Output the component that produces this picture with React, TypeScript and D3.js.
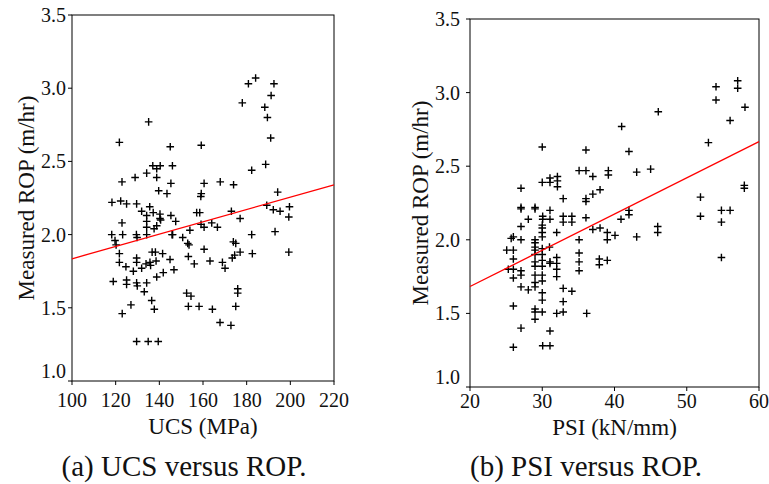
import React, { useEffect, useRef } from 'react';
import * as d3 from 'd3';

// UCS (MPa) vs measured ROP (m/hr)
const ucsValues = [
  184.1, 180.8, 192.5, 178, 191.2, 188.3, 189.5, 191, 135.1, 121.7, 145, 159.2, 188.7, 182.3,
  137, 140.4, 146, 134.2, 138.8, 128.9, 138.8, 122.9, 145.3, 160.5, 167.9, 174, 139.7, 143.5,
  159.2, 159, 194.2, 118.3, 122.3, 125, 129.6, 189.2, 192.2, 195.3, 199.6, 173, 157.1, 158.5,
  131.9, 135.6, 137.2, 140.3,
  118.2, 119.7, 120.2, 121.7, 121.7, 118.9, 122.9, 123.2, 124.7, 125, 125, 123, 127, 129.5,
  129.8, 129.6, 129.6, 128.1, 129.6, 129.9, 129.6, 134.2, 134.2, 134.2, 133.9, 131.9, 134.2,
  133.1, 136.5, 137.7, 134.9, 139.5, 136.7, 138.2, 135.7, 136, 138.5, 138.8, 141.5, 141.8,
  137.6, 138.8, 140.6, 145.3, 147.5, 145.8, 146.1, 144.9, 146.7, 150.7, 153, 153.6, 153.3,
  156, 154, 152.5, 154.5, 153.3, 158.2, 159.1, 160.5, 164, 166.6, 160.5, 163.2, 164.3, 177,
  173.9, 175, 173.4, 174.5, 177, 168.9, 170.1, 175.9, 175.9, 175, 167.8, 172.8, 182.3, 182.6,
  199.3, 193, 199.3, 134.2, 140.3,
];
const ucsRop = [
  3.07, 3.03, 3.03, 2.9, 2.95, 2.87, 2.8, 2.66, 2.77, 2.63, 2.6, 2.61, 2.48, 2.44,
  2.47, 2.47, 2.47, 2.42, 2.45, 2.39, 2.39, 2.36, 2.35, 2.35, 2.36, 2.34, 2.3, 2.28,
  2.28, 2.26, 2.29, 2.22, 2.23, 2.21, 2.21, 2.2, 2.17, 2.16, 2.19, 2.16, 2.15, 2.15,
  2.16, 2.19, 2.15, 2.14,
  2.0, 1.96, 1.93, 1.87, 1.81, 1.68, 2.08, 2.0, 1.78, 1.69, 1.66, 1.46, 1.52, 2.0,
  1.98, 1.84, 1.81, 1.75, 1.67, 1.65, 1.27, 2.13, 2.05, 2.0, 1.8, 1.77, 1.67,
  1.61, 1.55, 1.49, 1.27, 1.27, 1.88, 1.88, 1.81, 1.79, 1.82, 1.71, 1.87, 1.74,
  2.04, 2.06, 2.1, 2.13, 2.09, 2.0, 2.0, 1.83, 1.76, 1.98, 1.94, 1.93, 1.85,
  1.8, 2.03, 1.6, 1.58, 1.51, 1.51, 2.07, 2.05, 2.08, 2.05, 1.9, 1.82, 1.49, 2.11,
  1.95, 1.94, 1.84, 1.86, 1.88, 1.81, 1.77, 1.63, 1.6, 1.51, 1.4, 1.38, 2.0, 1.87,
  2.12, 2.02, 1.88, 2.09, 2.11,
];

// PSI (kN/mm) vs measured ROP (m/hr)
const psiValues = [
  57.05, 57.05, 54.05, 54.05, 58.06, 56, 53, 46.06, 40.99, 42, 43.07, 45, 39.15, 39.15,
  35.1, 36.05, 36.05, 37, 38, 37, 36.05, 36.05, 32.9, 30, 30, 31.07, 31.07, 32.1, 32.1,
  32.1, 27.06, 27.06, 27.06, 28.07, 29, 29, 30.06, 30.06, 31.07, 31.07, 32.9, 34.1, 32.9,
  34.1, 36.05, 40.9, 42, 42, 51.9, 51.9, 54.8, 56, 57.97, 57.97,
  54.8, 54.8, 45.98, 45.98, 43.07, 40.07, 39, 39, 38, 37, 39, 37.9, 37.9, 35.1, 35.1,
  35.1, 35.1, 36.15, 34.1, 32.9, 32.9, 32.9, 32, 32, 32, 32, 32, 32, 31.07, 31.07, 31,
  31.07, 31.07, 30.06,
  30, 30, 30, 30, 30, 30, 30, 30, 30, 30, 30, 30, 30,
  29, 29, 29, 29, 29, 29, 29, 29, 29, 29, 29, 29, 29,
  28.07, 27.06, 27.06, 27.06, 27.06, 27.06, 27.06, 26, 26, 26, 26, 26, 26, 26, 25.08,
  25.3, 25.7,
];
const psiRop = [
  3.08, 3.03, 3.04, 2.95, 2.9, 2.81, 2.66, 2.87, 2.77, 2.6, 2.46, 2.48, 2.47, 2.44,
  2.47, 2.47, 2.61, 2.43, 2.34, 2.31, 2.28, 2.26, 2.28, 2.63, 2.39, 2.39, 2.42, 2.43, 2.4,
  2.36, 2.35, 2.21, 2.22, 2.14, 2.22, 2.21, 2.16, 2.14, 2.2, 2.14, 2.16, 2.16, 2.12,
  2.12, 2.15, 2.14, 2.2, 2.17, 2.29, 2.16, 2.2, 2.2, 2.37, 2.35,
  2.12, 1.88, 2.09, 2.05, 2.02, 2.03, 2.05, 2.0, 2.08, 2.07, 1.86, 1.87, 1.83, 2.0, 1.91,
  1.85, 1.79, 1.5, 1.65, 1.67, 1.58, 1.51, 2.05, 1.88, 1.84, 1.8, 1.75, 1.5, 1.85, 1.84, 1.95,
  1.38, 1.28, 1.28,
  2.1, 2.08, 2.05, 2.02, 1.94, 1.9, 1.86, 1.82, 1.76, 1.72, 1.64, 1.59, 1.51,
  2.0, 1.98, 1.95, 1.93, 1.9, 1.85, 1.82, 1.76, 1.71, 1.68, 1.53, 1.51, 1.46,
  1.66, 2.09, 2.0, 1.79, 1.76, 1.68, 1.4, 2.02, 1.93, 1.87, 1.8, 1.74, 1.55, 1.27, 1.93,
  1.8, 2.01,
];

// fitted lines, read at the two ends of each x range
const ucsFit = [[100, 1.835], [220, 2.34]];
const psiFit = [[20, 1.683], [60, 2.667]];

const ucsTicks = [100, 120, 140, 160, 180, 200, 220];
const psiTicks = [20, 30, 40, 50, 60];
const ropTicks = [1.0, 1.5, 2.0, 2.5, 3.0, 3.5];

const FONT = '"Liberation Serif", "Times New Roman", serif';

const App = () => {
  const ref = useRef(null);

  useEffect(() => {
    const svg = d3.select(ref.current);
    svg.selectAll('*').remove();

    const panels = [
      {
        xs: ucsValues, ys: ucsRop, fit: ucsFit, xTicks: ucsTicks, xDomain: [100, 220],
        left: 72, right: 334, top: 15, bottom: 381, yLabelGap: 6, xLabelGap: 26,
        xTitle: 'UCS (MPa)', titleY: 434, yTitleX: 34, caption: '(a) UCS versus ROP.', capX: 184,
      },
      {
        xs: psiValues, ys: psiRop, fit: psiFit, xTicks: psiTicks, xDomain: [20, 60],
        left: 470, right: 759, top: 19, bottom: 387, yLabelGap: 10, xLabelGap: 21,
        xTitle: 'PSI (kN/mm)', titleY: 435, yTitleX: 428, caption: '(b) PSI versus ROP.', capX: 586,
      },
    ];

    panels.forEach((p) => {
      const x = d3.scaleLinear().domain(p.xDomain).range([p.left, p.right]);
      const y = d3.scaleLinear().domain([1, 3.5]).range([p.bottom, p.top]);
      const g = svg.append('g');

      // frame
      g.append('rect')
        .attr('x', p.left)
        .attr('y', p.top)
        .attr('width', p.right - p.left)
        .attr('height', p.bottom - p.top)
        .attr('fill', 'none')
        .attr('stroke', '#000')
        .attr('stroke-width', 1);

      // y ticks
      ropTicks.forEach((t, i) => {
        g.append('line')
          .attr('x1', p.left - 4).attr('x2', p.left)
          .attr('y1', y(t)).attr('y2', y(t))
          .attr('stroke', '#000');
        g.append('text')
          .attr('x', p.left - p.yLabelGap)
          .attr('y', y(t) + (i === 0 ? -10 : 0))
          .attr('dy', '0.35em')
          .attr('text-anchor', 'end')
          .style('font-family', FONT)
          .style('font-size', '20px')
          .attr('fill', '#111')
          .text(d3.format('.1f')(t));
      });

      // x ticks
      p.xTicks.forEach((t) => {
        g.append('line')
          .attr('x1', x(t)).attr('x2', x(t))
          .attr('y1', p.bottom).attr('y2', p.bottom + 4)
          .attr('stroke', '#000');
        g.append('text')
          .attr('x', x(t))
          .attr('y', p.bottom + p.xLabelGap)
          .attr('text-anchor', 'middle')
          .style('font-family', FONT)
          .style('font-size', '20px')
          .attr('fill', '#111')
          .text(d3.format('d')(t));
      });

      // crosses
      const cross = 'M-3.8,0H3.8M0,-3.8V3.8';
      p.xs.forEach((v, i) => {
        g.append('path')
          .attr('d', cross)
          .attr('transform', `translate(${x(v)},${y(p.ys[i])})`)
          .attr('stroke', '#000')
          .attr('stroke-width', 1.4)
          .attr('fill', 'none');
      });

      // fit line
      g.append('path')
        .attr('d', d3.line()(p.fit.map((d) => [x(d[0]), y(d[1])])))
        .attr('stroke', '#ff0000')
        .attr('stroke-width', 1.3)
        .attr('fill', 'none');

      // axis titles
      g.append('text')
        .attr('x', (p.left + p.right) / 2)
        .attr('y', p.titleY)
        .attr('text-anchor', 'middle')
        .style('font-family', FONT)
        .style('font-size', '23px')
        .attr('fill', '#111')
        .text(p.xTitle);

      g.append('text')
        .attr('transform', `translate(${p.yTitleX},${(p.top + p.bottom) / 2}) rotate(-90)`)
        .attr('text-anchor', 'middle')
        .style('font-family', FONT)
        .style('font-size', '23px')
        .attr('fill', '#111')
        .text('Measured ROP (m/hr)');

      // caption
      g.append('text')
        .attr('x', p.capX)
        .attr('y', 476)
        .attr('text-anchor', 'middle')
        .style('font-family', FONT)
        .style('font-size', '29px')
        .attr('fill', '#111')
        .text(p.caption);
    });
  }, []);

  return (
    <svg
      ref={ref}
      width={769}
      height={484}
      style={{ position: 'absolute', left: 0, top: 0, background: '#fff' }}
    />
  );
};

export default App;
